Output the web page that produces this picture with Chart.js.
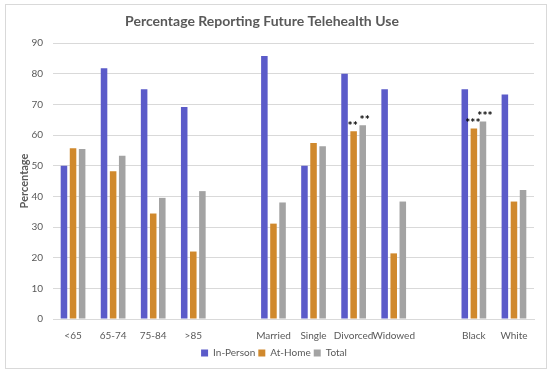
<!DOCTYPE html>
<html>
<head>
<meta charset="utf-8">
<script src="https://cdn.jsdelivr.net/npm/chart.js@4"></script>
<style>
  body { margin: 0; background: #fff; }
  #box { position: absolute; left: 5px; top: 4px; width: 540px; height: 363px; border: 1px solid #d9d9d9; }
</style>
</head>
<body>
<div id="box"><canvas id="chart"></canvas></div>
<script>
// Kategori (string kosong = jarak antar kelompok)
const categories = ['<65', '65-74', '75-84', '>85', '', 'Married', 'Single', 'Divorced', 'Widowed', '', 'Black', 'White'];
const inPerson = [50, 81.8, 74.9, 69.1, null, 85.8, 50, 80, 74.9, null, 74.9, 73.2];
const atHome   = [55.7, 48.2, 34.4, 22, null, 31.1, 57.4, 61.2, 21.4, null, 62.1, 38.3];
const total    = [55.4, 53.2, 39.5, 41.7, null, 38, 56.3, 63.2, 38.3, null, 64.4, 42.1];
const starsAtHome = ['', '', '', '', '', '', '', '**', '', '', '***', ''];
const starsTotal  = ['', '', '', '', '', '', '', '**', '', '', '***', ''];
const yTicks = [0, 10, 20, 30, 40, 50, 60, 70, 80, 90];
const titleText = 'Percentage Reporting Future Telehealth Use';

const font = 'Lato, "Open Sans", sans-serif';
const grey = '#595959';

// Judul digambar sendiri supaya posisinya sedikit ke kiri seperti aslinya
const titlePlugin = {
    id: 'customTitle',
    afterDraw(chart) {
        const ctx = chart.ctx;
        ctx.save();
        ctx.fillStyle = grey;
        ctx.font = 'bold 14px ' + font;
        ctx.textAlign = 'center';
        ctx.textBaseline = 'middle';
        ctx.fillText(titleText, 256, 16);
        ctx.restore();
    }
};

// Tanda bintang signifikansi di atas batang
const starPlugin = {
    id: 'stars',
    afterDatasetsDraw(chart) {
        const ctx = chart.ctx;
        ctx.save();
        ctx.fillStyle = '#000';
        ctx.font = 'bold 12px ' + font;
        ctx.textAlign = 'center';
        ctx.textBaseline = 'middle';
        [[1, starsAtHome, -1], [2, starsTotal, 2]].forEach(([ds, stars, dx]) => {
            const meta = chart.getDatasetMeta(ds);
            stars.forEach((s, i) => {
                if (!s) return;
                const bar = meta.data[i];
                ctx.fillText(s, bar.x + dx, bar.y - 5);
            });
        });
        ctx.restore();
    }
};

const ctx = document.getElementById('chart').getContext('2d');
new Chart(ctx, {
    type: 'bar',
    data: {
        labels: categories,
        datasets: [
            { label: 'In-Person', data: inPerson, backgroundColor: '#5b5bc9' },
            { label: 'At-Home', data: atHome, backgroundColor: '#d0892d' },
            { label: 'Total', data: total, backgroundColor: '#a3a3a3' },
        ],
    },
    options: {
        responsive: true,
        maintainAspectRatio: false,
        animation: false,
        categoryPercentage: 0.68,
        barPercentage: 0.72,
        layout: { padding: { left: 8, right: 12, top: 38, bottom: 0 } },
        plugins: {
            title: { display: false },
            legend: {
                position: 'bottom',
                labels: {
                    boxWidth: 7,
                    boxHeight: 7,
                    color: grey,
                    font: { family: font, size: 10 },
                    padding: 3,
                },
            },
            tooltip: { enabled: false },
        },
        scales: {
            x: {
                grid: { display: false },
                border: { color: '#d9d9d9' },
                ticks: { color: grey, font: { family: font, size: 10 }, maxRotation: 0, autoSkip: false, padding: 3 },
            },
            y: {
                min: 0,
                max: 90,
                afterBuildTicks(axis) { axis.ticks = yTicks.map(v => ({ value: v })); },
                afterFit(axis) { axis.width = 39; },
                grid: { color: '#d9d9d9', drawTicks: false },
                border: { display: false },
                ticks: { color: grey, font: { family: font, size: 10 }, padding: 10 },
                title: {
                    display: true,
                    text: 'Percentage',
                    color: grey,
                    font: { family: font, size: 11, weight: 'bold' },
                    padding: { top: 4, bottom: 0 },
                },
            },
        },
    },
    plugins: [starPlugin, titlePlugin],
});
</script>
</body>
</html>
